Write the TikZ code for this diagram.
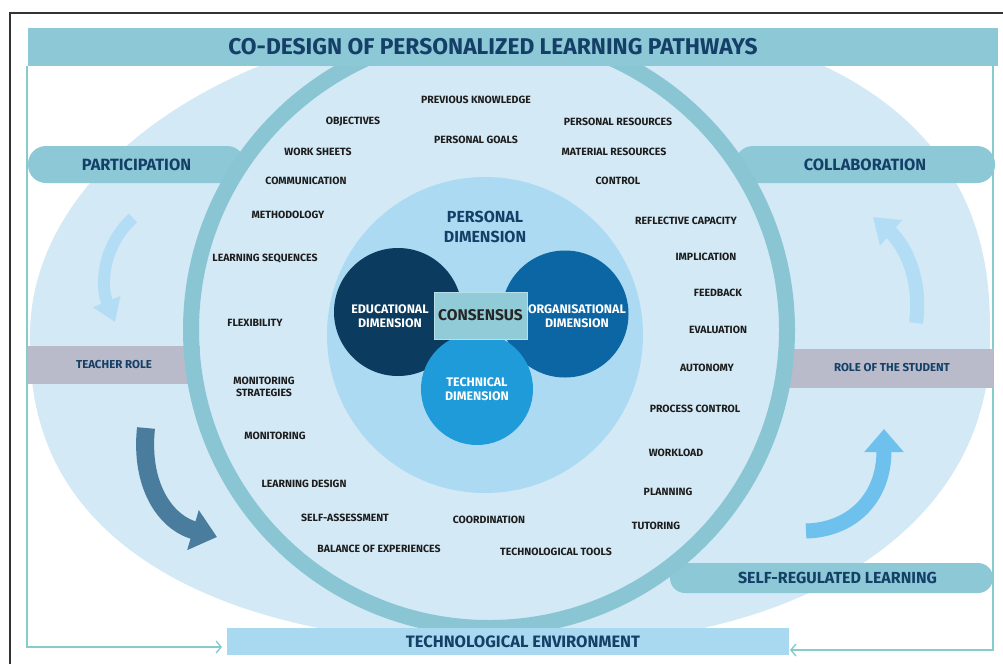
\documentclass[tikz,border=0pt]{standalone}
\usepackage{fontspec}
\setmainfont{Fira Sans}
\usetikzlibrary{arrows.meta}
\definecolor{bgblue}{HTML}{D3E9F5}
\definecolor{teal1}{HTML}{8DC8D6}
\definecolor{ringc}{HTML}{8AC5D3}
\definecolor{navy}{HTML}{143F66}
\definecolor{graybar}{HTML}{B9BBCA}
\definecolor{techbar}{HTML}{A9D9F1}
\definecolor{perscirc}{HTML}{ABDAF2}
\definecolor{educ}{HTML}{0B3B5E}
\definecolor{orga}{HTML}{0C66A4}
\definecolor{techc}{HTML}{1F9BD9}
\definecolor{cons}{HTML}{90CBD7}
\definecolor{consb}{HTML}{B7DFE7}
\definecolor{darrow}{HTML}{4A7C9D}
\definecolor{barrow}{HTML}{6DC1EC}
\definecolor{larrow}{HTML}{B2DDF4}
\definecolor{thinc}{HTML}{86CCCA}
\definecolor{txt}{HTML}{1C1C1C}
\begin{document}
\begin{tikzpicture}[x=1pt,y=-1pt,
  word/.style={font=\fontsize{10.5}{12.5}\selectfont\bfseries, text=txt, inner sep=0pt, align=center},
  bigtxt/.style={font=\fontsize{16.3}{19}\selectfont\bfseries, text=navy},
  pill/.style={fill=teal1, rounded corners=18pt, inner sep=0pt, bigtxt},
  graybox/.style={fill=graybar, inner sep=0pt, font=\fontsize{11.5}{14}\selectfont\bfseries, text=navy},
  dimtxt/.style={font=\fontsize{12.4}{14}\selectfont\bfseries, text=white, align=center, inner sep=0pt},
  thinline/.style={draw=thinc, line width=1.4pt, -{Straight Barb[length=5pt,width=12pt]}}
]
\useasboundingbox (0,0) rectangle (1003,664);
\fill[white] (0,0) rectangle (1003,664);

% background ellipse (four superellipse quadrants)
\begin{scope}
\clip (0,28) rectangle (1003,664);
\fill[bgblue]
  plot[domain=0.5:89.5, samples=60, variable=\t] ({530+460*pow(cos(\t),0.8333)}, {335-320*pow(sin(\t),0.8333)})
  -- plot[domain=89.5:0.5, samples=60, variable=\t] ({530-500*cos(\t)}, {335-320*sin(\t)})
  -- plot[domain=0.5:89.5, samples=60, variable=\t] ({530-500*pow(cos(\t),0.8333)}, {335+310*pow(sin(\t),0.8333)})
  -- plot[domain=89.5:0.5, samples=60, variable=\t] ({530+460*pow(cos(\t),0.9091)}, {335+310*pow(sin(\t),0.9091)})
  -- cycle;
\end{scope}

% thin connector lines
\coordinate (lt) at (27,66);
\coordinate (le) at (222,647);
\coordinate (rt) at (993,66);
\coordinate (re) at (790,650);
\draw[thinline] (lt) |- (le);
\draw[thinline] (rt) |- (re);

% side bars and pills
\node[graybox, minimum width=172pt, minimum height=38pt] (teacher) at (114,365) {TEACHER ROLE};
\node[graybox, minimum width=213pt, minimum height=39pt] (student) at (886.5,368) {\hspace*{11pt}ROLE OF THE STUDENT};
\node[pill, minimum width=217pt, minimum height=37pt] (part) at (136.5,164.5) {PARTICIPATION};
\node[pill, minimum width=260pt, minimum height=37pt] (collab) at (865,164.5) {COLLABORATION};
\node[pill, font=\fontsize{16}{19}\selectfont\bfseries, rounded corners=15pt, minimum width=323pt, minimum height=30pt] (selfreg) at (831.5,578) {\hspace*{12pt}SELF-REGULATED LEARNING};

% ring
\begin{scope}
\clip (0,28) rectangle (1003,664);
\draw[ringc, line width=16pt] (489,330) circle[radius=298];
\end{scope}

% personal dimension
\node[circle, fill=perscirc, minimum size=316pt, inner sep=0pt] (pers) at (485,335) {};
\node[font=\fontsize{16}{20}\selectfont\bfseries, text=navy, align=center, inner sep=0pt] (perstxt) at (485,227) {PERSONAL\\DIMENSION};
\node[circle, fill=educ, minimum size=128pt, inner sep=0pt] (edu) at (398,312) {};
\node[circle, fill=orga, minimum size=127pt, inner sep=0pt] (org) at (565,314) {};
\node[circle, fill=techc, minimum size=112pt, inner sep=0pt, dimtxt] (tech) at (477,389) {TECHNICAL\\DIMENSION};
\node[dimtxt] (edutxt) at (390,316) {EDUCATIONAL\\DIMENSION};
\node[dimtxt] (orgtxt) at (577,316) {ORGANISATIONAL\\DIMENSION};
\node[fill=cons, draw=consb, line width=1pt, minimum width=93pt, minimum height=47pt, inner sep=0pt,
      font=\fontsize{15.5}{17}\selectfont\bfseries, text=black!85] (consensus) at (480.5,315.5) {CONSENSUS};

% title banner
\node[fill=teal1, minimum width=970pt, minimum height=38pt, inner sep=0pt] (banner) at (513,47) {};
\node[font=\fontsize{22.8}{26}\selectfont\bfseries, text=navy, inner sep=0pt] (title) at (493,47) {CO-DESIGN OF PERSONALIZED LEARNING PATHWAYS};

% technological environment
\node[fill=techbar, minimum width=562pt, minimum height=27pt, inner sep=0pt,
      font=\fontsize{16.5}{19}\selectfont\bfseries, text=navy] (techenv) at (508,641.5) {\hspace*{30pt}TECHNOLOGICAL ENVIRONMENT};

% curved arrows
\draw[darrow, line width=18pt, -{Triangle[width=40pt,length=25pt]}] (146,428) .. controls (140,485) and (165,522) .. (217,537);
\draw[barrow, line width=15pt, -{Triangle[width=38pt,length=23pt]}] (806,531) .. controls (850,530) and (884,500) .. (884,429);
\draw[larrow, line width=14pt, -{Triangle[width=32pt,length=24pt]}] (916,323) .. controls (922,280) and (905,245) .. (873,217);
\draw[larrow, line width=12pt, -{Triangle[width=28pt,length=22pt]}] (133,218) .. controls (103,245) and (100,285) .. (115,322);

% words
\node[word] (w1) at (476,100) {PREVIOUS KNOWLEDGE};
\node[word] (w2) at (353,122) {OBJECTIVES};
\node[word] (w3) at (476,140) {PERSONAL GOALS};
\node[word] (w4) at (618,122) {PERSONAL RESOURCES};
\node[word] (w5) at (318,152) {WORK SHEETS};
\node[word] (w6) at (614,152) {MATERIAL RESOURCES};
\node[word] (w7) at (306,181) {COMMUNICATION};
\node[word] (w8) at (618,181) {CONTROL};
\node[word] (w9) at (288,215) {METHODOLOGY};
\node[word] (w10) at (686,221) {REFLECTIVE CAPACITY};
\node[word] (w11) at (265,259) {LEARNING SEQUENCES};
\node[word] (w12) at (706,257) {IMPLICATION};
\node[word] (w13) at (718,293) {FEEDBACK};
\node[word] (w14) at (255,323) {FLEXIBILITY};
\node[word] (w15) at (718,330) {EVALUATION};
\node[word] (w16) at (707,368) {AUTONOMY};
\node[word] (w17) at (264,387) {MONITORING\\STRATEGIES};
\node[word] (w18) at (695,409) {PROCESS CONTROL};
\node[word] (w19) at (275,436) {MONITORING};
\node[word] (w20) at (676,453) {WORKLOAD};
\node[word] (w21) at (304,484) {LEARNING DESIGN};
\node[word] (w22) at (668,492) {PLANNING};
\node[word] (w23) at (345,518) {SELF-ASSESSMENT};
\node[word] (w24) at (489,520) {COORDINATION};
\node[word] (w25) at (656,526) {TUTORING};
\node[word] (w26) at (379,549) {BALANCE OF EXPERIENCES};
\node[word] (w27) at (556,552) {TECHNOLOGICAL TOOLS};

% outer frame
\draw[black!80, line width=1.5pt] (10,664) -- (10,13) -- (1003,13);
\end{tikzpicture}
\end{document}
